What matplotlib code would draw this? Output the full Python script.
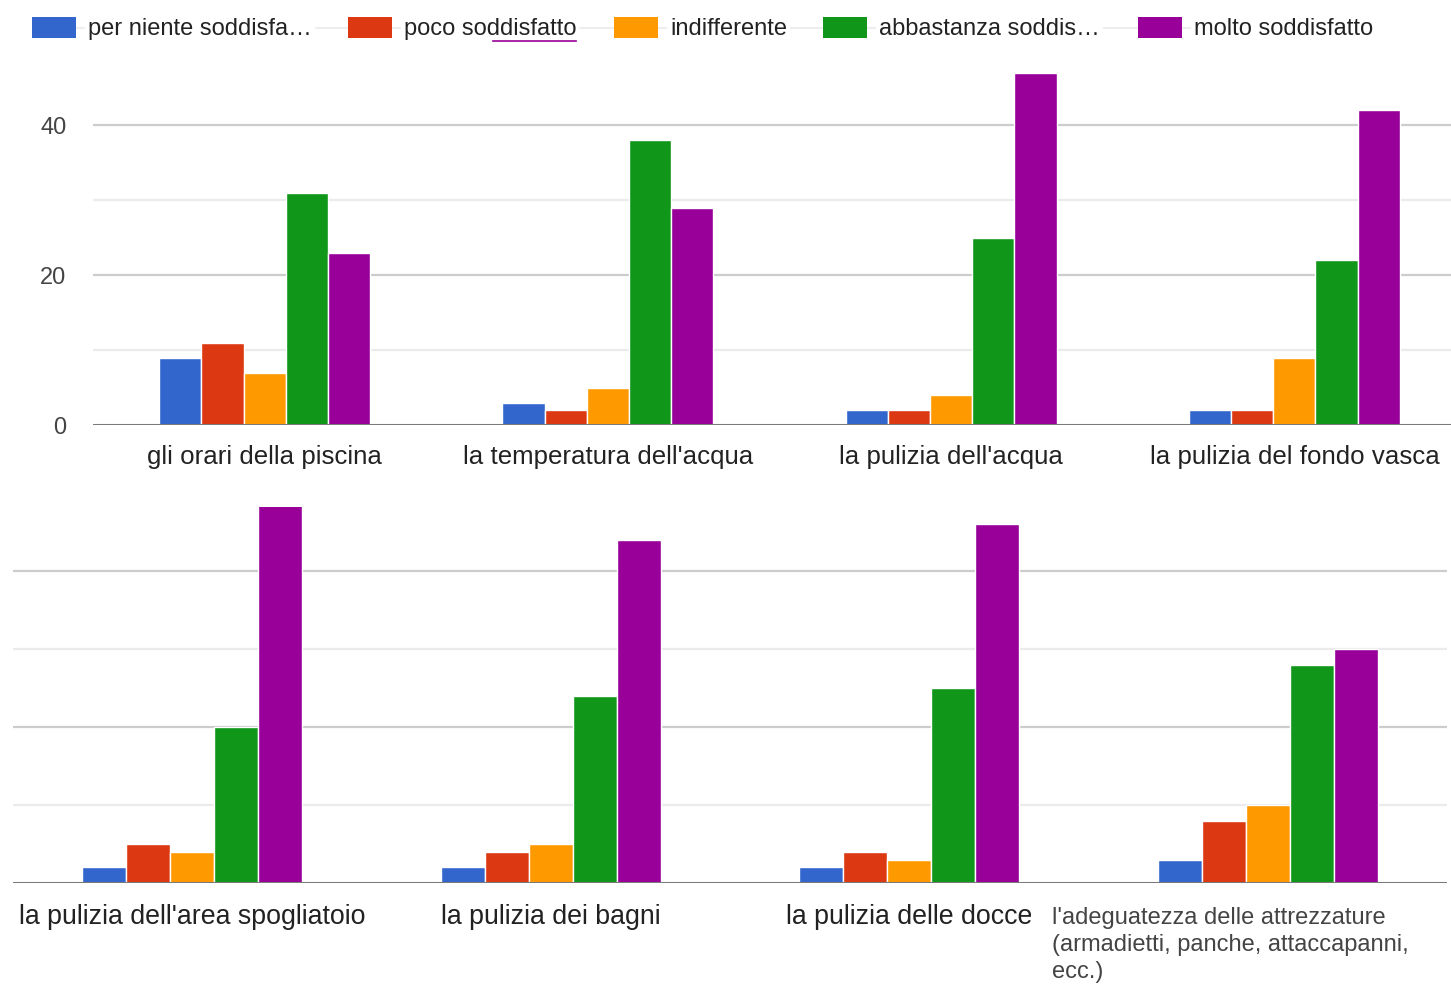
import matplotlib
matplotlib.use("Agg")
import matplotlib.pyplot as plt
import matplotlib.transforms as mtransforms
from matplotlib.patches import Rectangle
import numpy as np

plt.rcParams['font.family'] = ['Liberation Sans', 'DejaVu Sans']

# legend / series
legend_labels = ["per niente soddisfa\u2026", "poco soddisfatto", "indifferente",
                 "abbastanza soddis\u2026", "molto soddisfatto"]
colors = ["#3366cc", "#dc3912", "#ff9900", "#109618", "#990099"]

# upper chart
top_cats = ["gli orari della piscina", "la temperatura dell'acqua",
            "la pulizia dell'acqua", "la pulizia del fondo vasca"]
per_niente_top = [9, 3, 2, 2]
poco_top = [11, 2, 2, 2]
indiff_top = [7, 5, 4, 9]
abbastanza_top = [31, 38, 25, 22]
molto_top = [23, 29, 47, 42]

# lower chart
bot_cats = ["la pulizia dell'area spogliatoio", "la pulizia dei bagni",
            "la pulizia delle docce",
            "l'adeguatezza delle attrezzature\n(armadietti, panche, attaccapanni,\necc.)"]
per_niente_bot = [2, 2, 2, 3]
poco_bot = [5, 4, 4, 8]
indiff_bot = [4, 5, 3, 10]
abbastanza_bot = [20, 24, 25, 28]
molto_bot = [49, 44, 46, 30]

W, H = 1451, 985
fig = plt.figure(figsize=(W / 100, H / 100), dpi=100)


def px_axes(left, right, top, bottom):
    return fig.add_axes([left / W, (H - bottom) / H, (right - left) / W, (bottom - top) / H])


def draw_bars(ax, series, ymax, w):
    n = len(series)
    x = np.arange(len(series[0]))
    for k, (vals, c) in enumerate(zip(series, colors)):
        ax.bar(x + (k - (n - 1) / 2) * w, vals, width=w, color=c,
               edgecolor="white", linewidth=1, zorder=3)
    ax.set_xlim(-0.5, len(x) - 0.5)
    ax.set_ylim(0, ymax)
    for v in [10, 30]:
        ax.axhline(v, color="#ebebeb", lw=1.6, zorder=1)
    for v in [20, 40]:
        ax.axhline(v, color="#cccccc", lw=1.6, zorder=1)
    ax.axhline(0, color="#7a7a7a", lw=2.2, zorder=4)
    for s in ax.spines.values():
        s.set_visible(False)
    ax.set_xticks([])
    ax.tick_params(axis="y", length=0)


# --- upper chart
ax1 = px_axes(93, 1466, 65, 425)
draw_bars(ax1, [per_niente_top, poco_top, indiff_top, abbastanza_top, molto_top], 48, 0.123)
ax1.set_yticks([0, 20, 40])
ax1.set_yticklabels(["0", "20", "40"], fontsize=17, color="#444444")
ax1.tick_params(axis="y", pad=19)
tr1 = mtransforms.blended_transform_factory(ax1.transData, fig.transFigure)
for i, lab in enumerate(top_cats):
    fig.text(i, (H - 445) / H, lab, transform=tr1, ha="center", va="top",
             fontsize=18.6, color="#222222")

# --- lower chart
ax2 = px_axes(13, 1447, 507, 883)
draw_bars(ax2, [per_niente_bot, poco_bot, indiff_bot, abbastanza_bot, molto_bot],
          376 / 7.8, 0.123)
ax2.set_yticks([])
tr2 = mtransforms.blended_transform_factory(ax2.transData, fig.transFigure)
clip = mtransforms.TransformedBbox(mtransforms.Bbox.from_extents(0, 0, 1031 / W, 1),
                                   fig.transFigure)
for i, lab in enumerate(bot_cats[:3]):
    t = fig.text(i, (H - 904) / H, lab, transform=tr2, ha="center", va="top",
                 fontsize=19.3, color="#222222")
    t.set_clip_on(True)
    t.set_clip_box(clip)
fig.text(1052 / W, (H - 907) / H, bot_cats[3], ha="left", va="top",
         fontsize=17, color="#444444", linespacing=1.3)

# --- legend
fig.add_artist(plt.Line2D([76 / W, 1372 / W], [(H - 28) / H] * 2, color="#eeeeee",
                          lw=1.5, zorder=0))
leg_x = [32, 348, 614, 823, 1138]
for x0, lab, c in zip(leg_x, legend_labels, colors):
    fig.add_artist(Rectangle((x0 / W, (H - 38) / H), 44 / W, 21 / H,
                             transform=fig.transFigure, facecolor=c,
                             edgecolor="none", zorder=2))
    fig.text((x0 + 56) / W, (H - 29) / H, lab, ha="left", va="center",
             fontsize=17, color="#222222", zorder=3,
             bbox=dict(facecolor="white", edgecolor="none", pad=2))
# spell-check underline
fig.add_artist(plt.Line2D([493 / W, 576 / W], [(H - 41) / H] * 2, color="#990099",
                          lw=1.2, zorder=4))

fig.savefig("out.png", dpi=100, facecolor="white")
